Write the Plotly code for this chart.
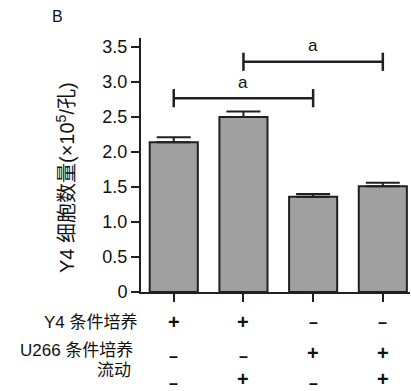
import plotly.graph_objects as go

groups = [0, 1, 2, 3]
means = [2.14, 2.50, 1.36, 1.51]
errs = [0.07, 0.08, 0.04, 0.05]
y_ticks = [0, 0.5, 1.0, 1.5, 2.0, 2.5, 3.0, 3.5]
y_tick_labels = ["0", "0.5", "1.0", "1.5", "2.0", "2.5", "3.0", "3.5"]
row_labels = ["Y4 条件培养", "U266 条件培养", "流动"]
row_y4 = ["+", "+", "-", "-"]
row_u266 = ["-", "-", "+", "+"]
row_flow = ["-", "+", "-", "+"]
sig_pairs = [(0, 2, 2.77), (1, 3, 3.29)]
sig_text = "a"

INK = "#231f20"
FONT = "Liberation Sans, Arial, Noto Sans CJK SC"

# plot area geometry (pixels)
L, R, T, B = 141, 1, 38, 99
W, H = 411, 391
PW, PH = W - L - R, H - T - B
XR = [-0.47, 3.39]
YR = [0, 3.63]


def px_x(p):
    return (p - L) / PW


def px_y(p):
    return (H - B - p) / PH


def dx_to_paper(v):
    return (v - XR[0]) / (XR[1] - XR[0])


fig = go.Figure()
fig.add_trace(go.Bar(
    x=groups, y=means, width=0.69,
    marker=dict(color="#a0a0a0", line=dict(color=INK, width=2)),
    error_y=dict(type="data", array=errs, arrayminus=[0] * 4, symmetric=False,
                 color=INK, thickness=2, width=17),
    hoverinfo="skip",
))

shapes = []
annotations = []
for (a, b, yv) in sig_pairs:
    shapes.append(dict(type="line", xref="x", yref="y", x0=a, x1=b, y0=yv, y1=yv,
                       line=dict(color=INK, width=2.5)))
    for xx in (a, b):
        shapes.append(dict(type="line", xref="x", yref="y", x0=xx, x1=xx,
                           y0=yv - 0.13, y1=yv + 0.13, line=dict(color=INK, width=2.5)))
    annotations.append(dict(x=(a + b) / 2, y=yv + 0.23, xref="x", yref="y", text=sig_text,
                            showarrow=False, yanchor="middle",
                            font=dict(size=17, color="#111", family=FONT)))

# row labels (pixel positions: right edge x, center y)
label_pos = [(140, 322), (135, 350), (133, 370)]
for lab, (lx, ly) in zip(row_labels, label_pos):
    annotations.append(dict(x=px_x(lx), y=px_y(ly), xref="paper", yref="paper", text=lab,
                            showarrow=False, xanchor="right", yanchor="middle",
                            font=dict(size=17, color="#111", family=FONT)))

row_ys = [(322, 322), (356, 353), (383, 379)]  # (minus y, plus y) pixels
for row, (ym, yp) in zip([row_y4, row_u266, row_flow], row_ys):
    for g, s in zip(groups, row):
        if s == "+":
            annotations.append(dict(x=dx_to_paper(g), y=px_y(yp), xref="paper", yref="paper",
                                    text="<b>+</b>", showarrow=False, xanchor="center",
                                    yanchor="middle",
                                    font=dict(size=20, color="#111", family=FONT)))
        else:
            annotations.append(dict(x=dx_to_paper(g), y=px_y(ym), xref="paper", yref="paper",
                                    text="<b>–</b>", showarrow=False, xanchor="center",
                                    yanchor="middle",
                                    font=dict(size=16, color="#111", family=FONT)))

annotations.append(dict(x=px_x(57), y=px_y(17), xref="paper", yref="paper", text="B",
                        showarrow=False, xanchor="center", yanchor="middle",
                        font=dict(size=16, color="#111", family=FONT)))

annotations.append(dict(x=px_x(65), y=px_y(178), xref="paper", yref="paper",
                        text="Y4 细胞数量(×10<sup>5</sup>/孔)", textangle=-90, showarrow=False,
                        xanchor="center", yanchor="middle",
                        font=dict(size=20, color="#111", family=FONT)))

fig.update_layout(
    width=W, height=H,
    margin=dict(l=L, r=R, t=T, b=B),
    plot_bgcolor="white", paper_bgcolor="white",
    showlegend=False,
    shapes=shapes, annotations=annotations,
    font=dict(family=FONT, color="#111"),
)
fig.update_xaxes(range=XR, showline=True, linecolor=INK, linewidth=2, automargin=False,
                 tickvals=groups, showticklabels=False, ticks="outside", ticklen=8,
                 tickwidth=2, tickcolor=INK, showgrid=False, zeroline=False)
fig.update_yaxes(range=YR, showline=True, linecolor=INK, linewidth=2, automargin=False,
                 tickvals=y_ticks, ticktext=y_tick_labels, ticks="outside", ticklen=8,
                 tickwidth=2, tickcolor=INK, showgrid=False, zeroline=False,
                 tickfont=dict(size=18, color="#111", family=FONT))

fig.write_html("out.html", config={"displayModeBar": False},
               post_script="document.body.style.margin='0';document.body.style.overflow='hidden';")
